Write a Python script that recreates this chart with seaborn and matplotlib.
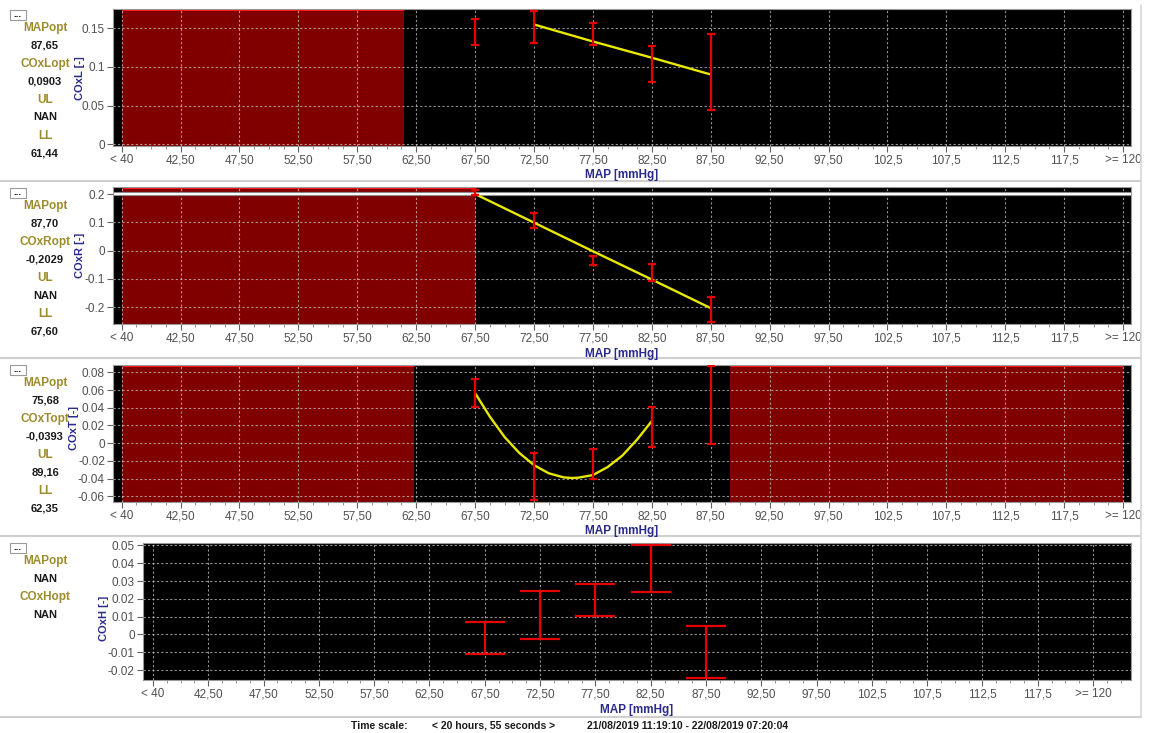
import matplotlib
matplotlib.use("Agg")
import matplotlib.pyplot as plt
import matplotlib.patheffects as pe
from matplotlib.ticker import FixedLocator, MultipleLocator
import pandas as pd
import seaborn as sns

# ---- MAP bins (open-ended outer bins) -------------------------------------
map_bins = [37.5, 42.5, 47.5, 52.5, 57.5, 62.5, 67.5, 72.5, 77.5, 82.5,
            87.5, 92.5, 97.5, 102.5, 107.5, 112.5, 117.5, 122.5]
map_tick_labels = ["< 40", "42,50", "47,50", "52,50", "57,50", "62,50", "67,50",
                   "72,50", "77,50", "82,50", "87,50", "92,50", "97,50", "102,5",
                   "107,5", "112,5", "117,5", ">= 120"]

# bins that hold data
bin_x = [67.5, 72.5, 77.5, 82.5, 87.5]

# ---- COxL -----------------------------------------------------------------
coxl_low = [0.128, 0.131, 0.129, 0.081, 0.044]
coxl_high = [0.162, 0.172, 0.157, 0.127, 0.143]
coxl_fit_x = [72.5, 77.5, 82.5, 87.5]
coxl_fit_y = [0.155, 0.133, 0.112, 0.0903]

# ---- COxR -----------------------------------------------------------------
coxr_low = [0.196, 0.081, -0.052, -0.106, -0.251]
coxr_high = [0.214, 0.132, -0.020, -0.047, -0.163]
coxr_fit_x = [67.5, 72.5, 77.5, 82.5, 87.5]
coxr_fit_y = [0.200, 0.099, -0.002, -0.102, -0.203]

# ---- COxT -----------------------------------------------------------------
coxt_low = [0.041, -0.064, -0.040, -0.004, -0.001]
coxt_high = [0.073, -0.011, -0.007, 0.041, 0.087]
coxt_fit_x = [67.5, 68.75, 70.0, 71.25, 72.5, 73.75, 75.0, 75.68, 76.25,
              77.5, 78.75, 80.0, 81.25, 82.5]
coxt_fit_y = [0.0565, 0.030, 0.007, -0.011, -0.0248, -0.034, -0.0386, -0.0393,
              -0.0390, -0.036, -0.027, -0.014, 0.004, 0.025]

# ---- COxH -----------------------------------------------------------------
coxh_low = [-0.0108, -0.0028, 0.0106, 0.0241, -0.0243]
coxh_high = [0.0069, 0.0246, 0.0284, 0.0503, 0.0050]

# ---- summary values shown beside each panel ------------------------------
coxl_info = [("MAPopt", "87,65"), ("COxLopt", "0,0903"), ("UL", "NAN"), ("LL", "61,44")]
coxr_info = [("MAPopt", "87,70"), ("COxRopt", "-0,2029"), ("UL", "NAN"), ("LL", "67,60")]
coxt_info = [("MAPopt", "75,68"), ("COxTopt", "-0,0393"), ("UL", "89,16"), ("LL", "62,35")]
coxh_info = [("MAPopt", "NAN"), ("COxHopt", "NAN")]

# impaired-autoregulation MAP ranges
coxl_impaired = [(37.5, 61.44)]
coxr_impaired = [(37.5, 67.60)]
coxt_impaired = [(37.5, 62.35), (89.16, 122.5)]
coxh_impaired = []

coxl_yticks = [0, 0.05, 0.1, 0.15]
coxl_ylabels = ["0", "0.05", "0.1", "0.15"]
coxr_yticks = [-0.2, -0.1, 0, 0.1, 0.2]
coxr_ylabels = ["-0.2", "-0.1", "0", "0.1", "0.2"]
coxt_yticks = [-0.06, -0.04, -0.02, 0, 0.02, 0.04, 0.06, 0.08]
coxt_ylabels = ["-0.06", "-0.04", "-0.02", "0", "0.02", "0.04", "0.06", "0.08"]
coxh_yticks = [-0.02, -0.01, 0, 0.01, 0.02, 0.03, 0.04, 0.05]
coxh_ylabels = ["-0.02", "-0.01", "0", "0.01", "0.02", "0.03", "0.04", "0.05"]

# ---------------------------------------------------------------------------
sns.set_style("ticks")
plt.rcParams["font.family"] = ["Liberation Sans", "DejaVu Sans"]

W, H = 1149, 733
fig = plt.figure(figsize=(W / 100, H / 100), dpi=100)
fig.patch.set_facecolor("white")

RED = "#e60000"
YELLOW = "#e8e800"
MAROON = "#800000"
BLUE = "#2a2a8c"
OLIVE = "#9c8c2c"
TICKC = "#505050"


def px_axes(x0, x1, ytop, ybot):
    return fig.add_axes([x0 / W, 1 - ybot / H, (x1 - x0) / W, (ybot - ytop) / H])


def ftext(x, y, s, **kw):
    fig.text(x / W, 1 - y / H, s, **kw)


panels = [
    dict(box=(113.3, 1130.7, 9, 145.7), xlim=(36.79, 123.15), ylim=(-0.0018, 0.175),
         low=coxl_low, high=coxl_high, fx=coxl_fit_x, fy=coxl_fit_y,
         spans=coxl_impaired, yt=coxl_yticks, yl=coxl_ylabels, ylabel="COxL [-]",
         ylab_xy=(80, 78), cap=3.1, info=coxl_info, top=5),
    dict(box=(113.3, 1130.7, 186.7, 324), xlim=(36.79, 123.15), ylim=(-0.259, 0.2258),
         low=coxr_low, high=coxr_high, fx=coxr_fit_x, fy=coxr_fit_y,
         spans=coxr_impaired, yt=coxr_yticks, yl=coxr_ylabels, ylabel="COxR [-]",
         ylab_xy=(80, 255), cap=3.1, info=coxr_info, top=183, whiteline=0.2),
    dict(box=(113.3, 1130.7, 364.7, 501.7), xlim=(36.79, 123.15), ylim=(-0.0661, 0.0886),
         low=coxt_low, high=coxt_high, fx=coxt_fit_x, fy=coxt_fit_y,
         spans=coxt_impaired, yt=coxt_yticks, yl=coxt_ylabels, ylabel="COxT [-]",
         ylab_xy=(74, 428), cap=3.1, info=coxt_info, top=360),
    dict(box=(143, 1130.7, 543, 680), xlim=(36.6, 125.9), ylim=(-0.0256, 0.0514),
         low=coxh_low, high=coxh_high, fx=None, fy=None,
         spans=coxh_impaired, yt=coxh_yticks, yl=coxh_ylabels, ylabel="COxH [-]",
         ylab_xy=(104, 618), cap=14.4, info=coxh_info, top=538),
]

for p in panels:
    x0, x1, yt, yb = p["box"]
    ax = px_axes(x0, x1, yt, yb)
    ax.set_facecolor("black")
    ax.set_xlim(*p["xlim"])
    ax.set_ylim(*p["ylim"])

    # impaired regions
    for a, b in p["spans"]:
        ax.axvspan(a, b, color=MAROON, zorder=1, lw=0)
        ax.hlines(p["ylim"][1], a, b, color="#ff1010", lw=2.2, zorder=1.2)

    # dotted grid over the shaded regions
    ax.set_axisbelow("line")
    ax.grid(True, which="major", color="#d0d0d0", linestyle=(0, (2, 2)),
            linewidth=0.8, alpha=0.7)

    if p.get("whiteline") is not None:
        ax.axhline(p["whiteline"], color="white", lw=1.4, zorder=1.8,
                   path_effects=[pe.Stroke(linewidth=3.0, foreground="#8a8a8a"),
                                 pe.Normal()])

    # fitted curve
    if p["fx"] is not None:
        fit = pd.DataFrame({"MAP": p["fx"], "COx": p["fy"]})
        sns.lineplot(data=fit, x="MAP", y="COx", ax=ax, color=YELLOW, lw=1.7,
                     zorder=3, estimator=None)

    # error bars per MAP bin
    bars = pd.DataFrame({"MAP": bin_x, "low": p["low"], "high": p["high"]})
    mid = (bars["low"] + bars["high"]) / 2
    half = (bars["high"] - bars["low"]) / 2
    ax.errorbar(bars["MAP"], mid, yerr=half, fmt="none", ecolor=RED,
                elinewidth=1.6, capsize=p["cap"], capthick=1.6, zorder=4)

    ax.xaxis.set_major_locator(FixedLocator(map_bins))
    ax.set_xticklabels(map_tick_labels)
    ax.xaxis.set_minor_locator(MultipleLocator(1.25))
    ax.yaxis.set_major_locator(FixedLocator(p["yt"]))
    ax.set_yticklabels(p["yl"])
    ax.tick_params(axis="both", which="major", length=4, width=0.8, color="#606060",
                   labelsize=8.5, labelcolor=TICKC, pad=2)
    ax.tick_params(axis="x", which="minor", length=2, width=0.6, color="#808080")
    ax.set_xlabel("")
    ax.set_ylabel("")
    for s in ax.spines.values():
        s.set_color("#9a9a9a")
        s.set_linewidth(0.8)

    # axis titles
    ftext(p["ylab_xy"][0], p["ylab_xy"][1], p["ylabel"], rotation=90, ha="center",
          va="center", color=BLUE, fontsize=8, fontweight="bold")
    ftext((x0 + x1) / 2, yb + 29.5, "MAP [mmHg]", ha="center", va="center",
          color=BLUE, fontsize=8.5, fontweight="bold")

    # summary block
    top = p["top"]
    y = top + 23
    for name, val in p["info"]:
        ftext(45, y, name, ha="center", va="center", color=OLIVE, fontsize=8.5,
              fontweight="bold")
        ftext(45, y + 17.5, val, ha="center", va="center", color="#1a1a1a",
              fontsize=8, fontweight="bold")
        y += 36

    # small "..." button
    btn = plt.Rectangle((10 / W, 1 - (top + 15) / H), 16 / W, 10 / H,
                        transform=fig.transFigure, facecolor="white",
                        edgecolor="#9a9a9a", lw=0.8)
    fig.patches.append(btn)
    ftext(18, top + 9, "...", ha="center", va="center", color="#202020",
          fontsize=7, fontweight="bold")

# panel separators and frame
for yy in [181, 358, 536, 717]:
    fig.add_artist(plt.Line2D([0, 1141 / W], [1 - yy / H, 1 - yy / H],
                              transform=fig.transFigure, color="#cfcfcf", lw=1.5))
fig.add_artist(plt.Line2D([1141 / W, 1141 / W], [1 - 5 / H, 1 - 717 / H],
                          transform=fig.transFigure, color="#d8d8d8", lw=1.2))

# time-scale footer
ftext(379, 726, "Time scale:", ha="center", va="center", color="#1a1a1a",
      fontsize=7.5, fontweight="bold")
ftext(494, 726, "< 20 hours, 55 seconds >", ha="center", va="center",
      color="#1a1a1a", fontsize=7.5, fontweight="bold")
ftext(688, 726, "21/08/2019 11:19:10 - 22/08/2019 07:20:04", ha="center",
      va="center", color="#1a1a1a", fontsize=7.5, fontweight="bold")

fig.savefig("out.png", dpi=100, facecolor="white")
